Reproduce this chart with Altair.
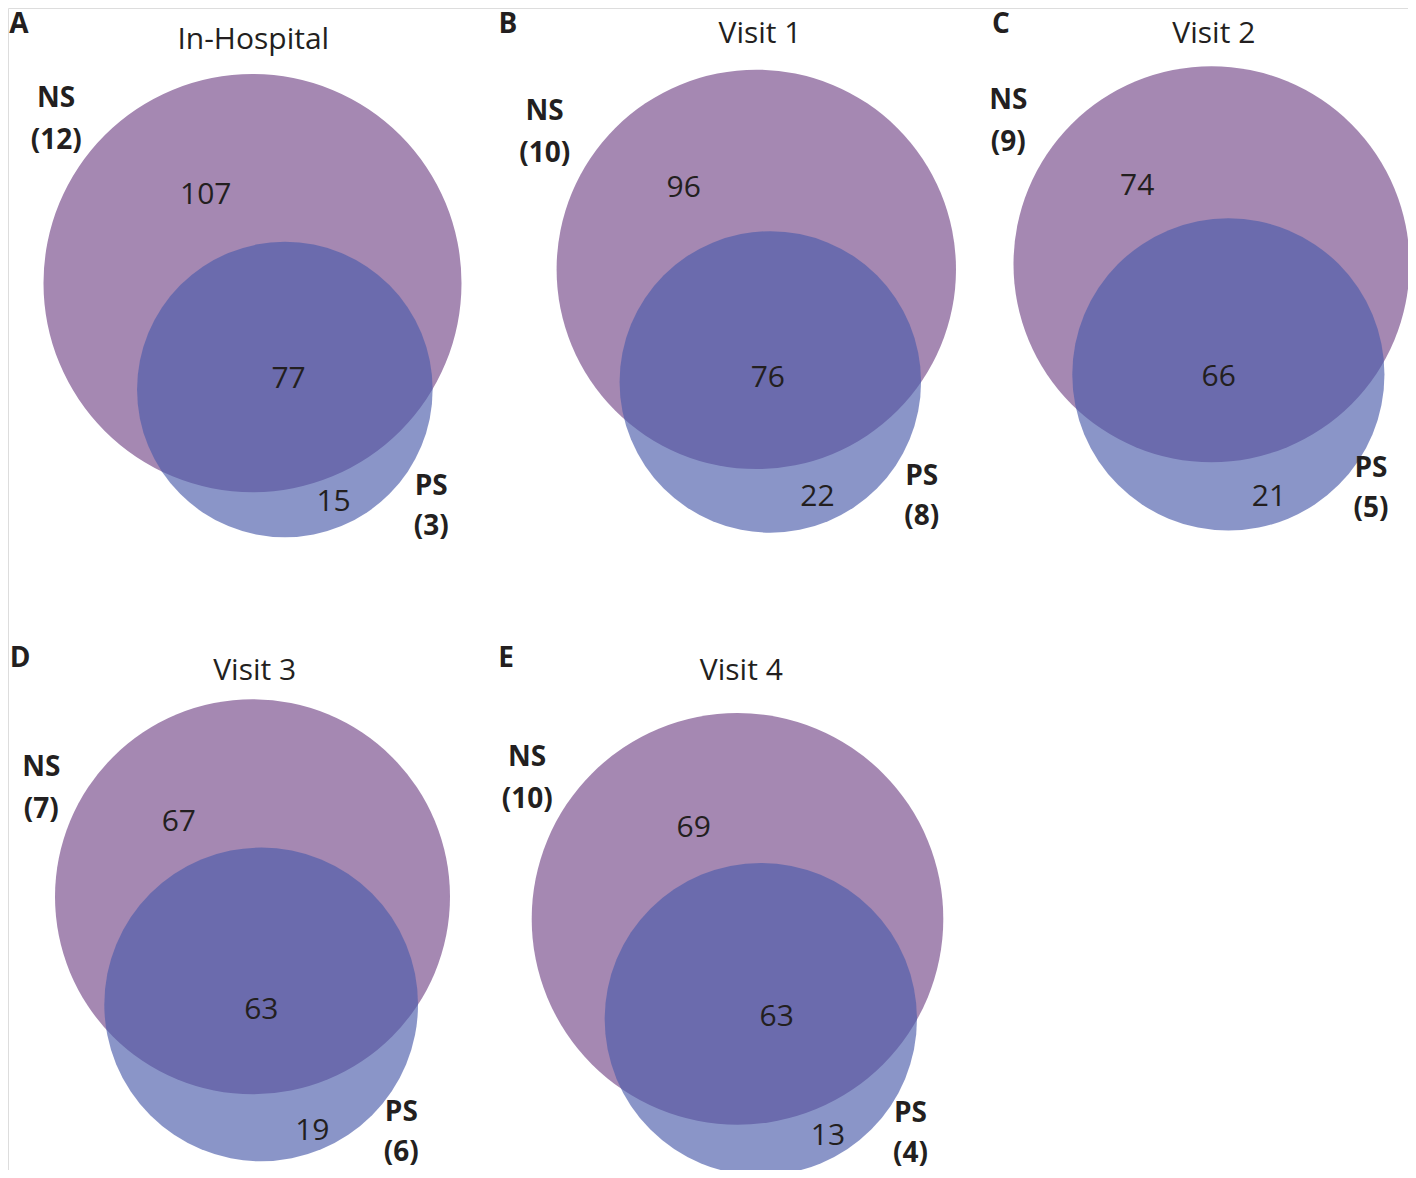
import math
import altair as alt
import pandas as pd

# ---------------- data ----------------
panels = ["A", "B", "C", "D", "E"]
titles = ["In-Hospital", "Visit 1", "Visit 2", "Visit 3", "Visit 4"]
ns_only = [107, 96, 74, 67, 69]
both = [77, 76, 66, 63, 63]
ps_only = [15, 22, 21, 19, 13]
ns_n = [12, 10, 9, 7, 10]
ps_n = [3, 8, 5, 6, 4]

# ---------------- layout (page pixels) ----------------
# big-circle centre/radius, direction of the PS circle, and label offsets
LAYOUT = {
    "A": dict(cx=252.5, cy=283.1, r=209.0, ang=73.1, letter=(19.0, 32.5), title=(253.3, 39.8),
              ns=(-196.3, -184.0), nso=(-46.7, -88.5), bo=(3.7, -10.7), pso=(48.7, 112.5), ps=(146.4, 97.3)),
    "B": dict(cx=756.3, cy=269.4, r=199.7, ang=82.9, letter=(508.0, 32.5), title=(760.0, 33.9),
              ns=(-211.6, -157.8), nso=(-72.6, -81.3), bo=(-2.5, -3.9), pso=(47.2, 114.7), ps=(151.4, 95.2)),
    "C": dict(cx=1211.5, cy=264.2, r=198.0, ang=81.3, letter=(1001.0, 32.5), title=(1213.8, 33.9),
              ns=(-203.2, -163.3), nso=(-74.3, -78.6), bo=(-9.7, 2.9), pso=(40.6, 122.4), ps=(142.6, 94.8)),
    "D": dict(cx=252.5, cy=896.8, r=197.5, ang=85.4, letter=(20.0, 667.0), title=(254.7, 670.7),
              ns=(-211.2, -128.8), nso=(-73.7, -74.6), bo=(0.2, 5.6), pso=(51.2, 126.1), ps=(140.2, 108.6)),
    "E": dict(cx=737.5, cy=918.9, r=205.8, ang=76.9, letter=(506.0, 667.0), title=(741.3, 670.7),
              ns=(-210.3, -161.3), nso=(-43.8, -91.4), bo=(15.9, -2.6), pso=(67.2, 117.2), ps=(149.7, 95.2)),
}
NS_GAP = 42
PS_GAP = 40

PURPLE = "#a588b2"
BLUE = "#4b5cab"
BLUE_OPACITY = 0.65
TEXT = "#231f20"
FONT = "Open Sans"

W, H = 1400, 1162


def lens_area(d, r1, r2):
    if d >= r1 + r2:
        return 0.0
    if d <= abs(r1 - r2):
        return math.pi * min(r1, r2) ** 2
    a1 = r1 * r1 * math.acos((d * d + r1 * r1 - r2 * r2) / (2 * d * r1))
    a2 = r2 * r2 * math.acos((d * d + r2 * r2 - r1 * r1) / (2 * d * r2))
    a3 = 0.5 * math.sqrt((-d + r1 + r2) * (d + r1 - r2) * (d - r1 + r2) * (d + r1 + r2))
    return a1 + a2 - a3


def solve_distance(r1, r2, target):
    lo, hi = abs(r1 - r2) + 1e-9, r1 + r2
    for _ in range(100):
        mid = (lo + hi) / 2
        if lens_area(mid, r1, r2) > target:
            lo = mid
        else:
            hi = mid
    return (lo + hi) / 2


circles, numbers, names, titles_rows, letters = [], [], [], [], []
for i, p in enumerate(panels):
    L = LAYOUT[p]
    ns_tot = ns_only[i] + both[i]
    ps_tot = ps_only[i] + both[i]
    r1 = 1.0
    r2 = math.sqrt(ps_tot / ns_tot)
    d = solve_distance(r1, r2, math.pi * both[i] / ns_tot)
    R = L["r"]
    a = math.radians(L["ang"])
    bx, by = L["cx"], L["cy"]
    sx, sy = bx + d * R * math.cos(a), by + d * R * math.sin(a)
    circles.append(dict(panel=p, set="NS", x=bx, y=by, size=(2 * R) ** 2))
    circles.append(dict(panel=p, set="PS", x=sx, y=sy, size=(2 * R * r2) ** 2))

    numbers.append(dict(x=bx + L["nso"][0], y=by + L["nso"][1], t=str(ns_only[i])))
    numbers.append(dict(x=sx + L["bo"][0], y=sy + L["bo"][1], t=str(both[i])))
    numbers.append(dict(x=sx + L["pso"][0], y=sy + L["pso"][1], t=str(ps_only[i])))

    nx, ny = bx + L["ns"][0], by + L["ns"][1]
    names.append(dict(x=nx, y=ny, t="NS"))
    names.append(dict(x=nx, y=ny + NS_GAP, t=f"({ns_n[i]})"))
    px_, py_ = sx + L["ps"][0], sy + L["ps"][1]
    names.append(dict(x=px_, y=py_, t="PS"))
    names.append(dict(x=px_, y=py_ + PS_GAP, t=f"({ps_n[i]})"))

    titles_rows.append(dict(x=L["title"][0], y=L["title"][1], t=titles[i]))
    letters.append(dict(x=L["letter"][0], y=L["letter"][1], t=p))

circ_df = pd.DataFrame(circles)

X = alt.X("x:Q", scale=alt.Scale(domain=[8, 8 + W], nice=False, zero=False), axis=None)
Y = alt.Y("y:Q", scale=alt.Scale(domain=[8, 8 + H], nice=False, zero=False, reverse=True), axis=None)

big = alt.Chart(circ_df[circ_df["set"] == "NS"]).mark_circle(
    color=PURPLE, opacity=1, strokeWidth=0
).encode(x=X, y=Y, size=alt.Size("size:Q", scale=None))

small = alt.Chart(circ_df[circ_df["set"] == "PS"]).mark_circle(
    color=BLUE, opacity=BLUE_OPACITY, strokeWidth=0
).encode(x=X, y=Y, size=alt.Size("size:Q", scale=None))


def text_layer(rows, size, weight, baseline="middle"):
    return alt.Chart(pd.DataFrame(rows)).mark_text(
        font=FONT, fontSize=size, fontWeight=weight, color=TEXT,
        align="center", baseline=baseline
    ).encode(x=X, y=Y, text="t:N")


chart = alt.layer(
    big,
    small,
    text_layer(numbers, 30, "normal"),
    text_layer(names, 28, "bold"),
    text_layer(titles_rows, 30, "normal"),
    text_layer(letters, 28, "bold", baseline="alphabetic"),
).properties(
    width=W, height=H, autosize="none", padding=0
).configure_view(stroke="transparent", strokeWidth=0, strokeOpacity=0).configure(background="white")

chart.save("out.html", embed_options={"renderer": "svg", "actions": False})
